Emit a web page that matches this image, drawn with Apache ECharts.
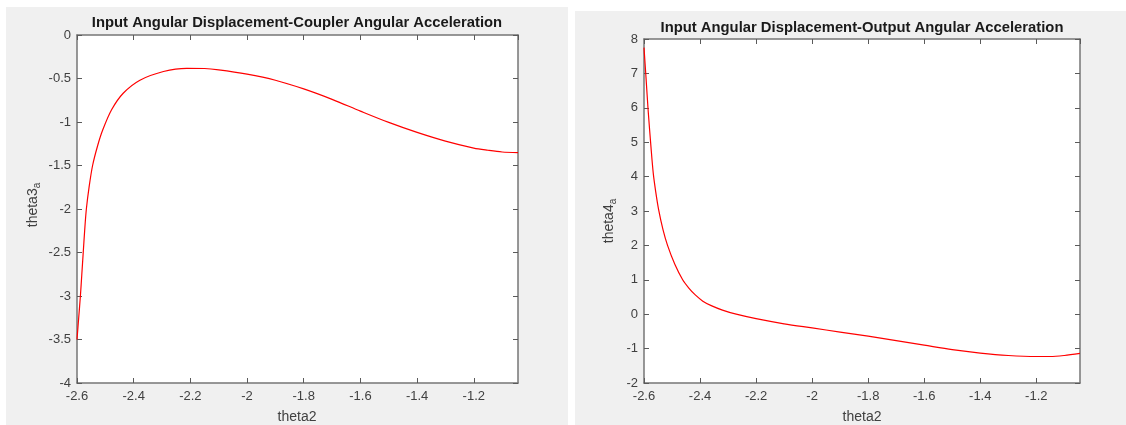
<!DOCTYPE html>
<html>
<head>
<meta charset="utf-8">
<script src="https://cdn.jsdelivr.net/npm/echarts@6/dist/echarts.min.js"></script>
<style>
html,body{margin:0;padding:0;background:#fff;}
#c{width:1126px;height:425px;}
</style>
</head>
<body>
<div id="c"></div>
<script>
// ---- data ----
var titles = ['Input Angular Displacement-Coupler Angular Acceleration',
              'Input Angular Displacement-Output Angular Acceleration'];
var xName = 'theta2';
var xTicks = [-2.6, -2.4, -2.2, -2, -1.8, -1.6, -1.4, -1.2];
var xMin = -2.6, xMax = -1.044;
var yTicksLeft = [-4, -3.5, -3, -2.5, -2, -1.5, -1, -0.5, 0];
var yTicksRight = [-2, -1, 0, 1, 2, 3, 4, 5, 6, 7, 8];

var theta2Left = [-2.600, -2.594, -2.588, -2.583, -2.578, -2.573, -2.567, -2.557, -2.545, -2.527, -2.509, -2.478,
                  -2.437, -2.378, -2.295, -2.213, -2.150, -2.100, -2.000, -1.900, -1.800, -1.700, -1.600,
                  -1.500, -1.400, -1.300, -1.200, -1.150, -1.100, -1.044];
var theta3a    = [-3.50, -3.25, -3.00, -2.75, -2.50, -2.25, -2.00, -1.74, -1.50, -1.27, -1.09, -0.86,
                  -0.67, -0.52, -0.42, -0.383, -0.385, -0.40, -0.45, -0.52, -0.62, -0.74, -0.875,
                  -1.005, -1.12, -1.22, -1.30, -1.325, -1.345, -1.353];

var theta2Right = [-2.600, -2.593, -2.585, -2.575, -2.567, -2.558, -2.548, -2.532, -2.516, -2.490, -2.462,
                   -2.440, -2.417, -2.390, -2.360, -2.320, -2.271, -2.200, -2.100, -2.000, -1.900, -1.800, -1.700,
                   -1.600, -1.500, -1.400, -1.300, -1.200, -1.150, -1.100, -1.044];
var theta4a     = [7.75, 6.9, 5.9, 4.85, 4.1, 3.55, 3.05, 2.45, 2.0, 1.45, 1.0,
                   0.76, 0.56, 0.38, 0.25, 0.12, 0.0, -0.13, -0.28, -0.40, -0.52, -0.64, -0.77,
                   -0.90, -1.03, -1.13, -1.20, -1.23, -1.23, -1.20, -1.14];

function pairs(xs, ys){ return xs.map(function(x,i){ return [x, ys[i]]; }); }

var axisColor = '#767676';
var labelColor = '#404040';
var fontFam = '"Liberation Sans", Arial, Helvetica, sans-serif';

function fmt(v){ return String(Math.round(v*10)/10); }

function xAx(grid, pos, showLabels){
  return {
    type:'value', gridIndex:grid, position:pos, min:xMin, max:xMax, interval:0.2,
    axisLine:{show:true, onZero:false, lineStyle:{color:axisColor, width:1.5}},
    axisTick:{show:true, inside:true, length:5, lineStyle:{color:'#5a5a5a', width:1}},
    axisLabel:{show:showLabels, showMaxLabel:false, color:labelColor, fontSize:13, fontFamily:fontFam, margin:7,
      formatter:fmt},
    splitLine:{show:false}
  };
}
function yAx(grid, pos, min, max, interval, showLabels){
  return {
    type:'value', gridIndex:grid, position:pos, min:min, max:max, interval:interval,
    axisLine:{show:true, onZero:false, lineStyle:{color:axisColor, width:1.5}},
    axisTick:{show:true, inside:true, length:5, lineStyle:{color:'#5a5a5a', width:1}},
    axisLabel:{show:showLabels, color:labelColor, fontSize:13, fontFamily:fontFam, margin:6,
      formatter:fmt},
    splitLine:{show:false}
  };
}

var chart = echarts.init(document.getElementById('c'), null, {renderer:'canvas'});
var option = {
  backgroundColor:'#ffffff',
  animation:false,
  grid:[
    {left:77, top:35, width:441, height:348, show:true, backgroundColor:'#ffffff', borderWidth:0},
    {left:644, top:39, width:436, height:344, show:true, backgroundColor:'#ffffff', borderWidth:0}
  ],
  xAxis:[ xAx(0,'bottom',true), xAx(0,'top',false), xAx(1,'bottom',true), xAx(1,'top',false) ],
  yAxis:[ yAx(0,'left',-4,0,0.5,true), yAx(0,'right',-4,0,0.5,false),
          yAx(1,'left',-2,8,1,true), yAx(1,'right',-2,8,1,false) ],
  series:[
    {type:'line', xAxisIndex:0, yAxisIndex:0, data:pairs(theta2Left, theta3a), smooth:0.3,
     showSymbol:false, lineStyle:{color:'#ff0000', width:1.2}, z:5},
    {type:'line', xAxisIndex:2, yAxisIndex:2, data:pairs(theta2Right, theta4a), smooth:0.3,
     showSymbol:false, lineStyle:{color:'#ff0000', width:1.2}, z:5}
  ],
  graphic:[
    {type:'rect', shape:{x:6, y:7, width:562, height:418}, style:{fill:'#f0f0f0'}, z:-10, silent:true},
    {type:'rect', shape:{x:575, y:11, width:551, height:414}, style:{fill:'#f0f0f0'}, z:-10, silent:true},
    {type:'text', x:297, y:23, z:10, style:{text:titles[0], align:'center', verticalAlign:'middle',
      font:'bold 14.8px "Liberation Sans", Arial, sans-serif', fill:'#1a1a1a'}},
    {type:'text', x:862, y:28, z:10, style:{text:titles[1], align:'center', verticalAlign:'middle',
      font:'bold 14.8px "Liberation Sans", Arial, sans-serif', fill:'#1a1a1a'}},
    {type:'text', x:297, y:417, z:10, style:{text:xName, align:'center', verticalAlign:'middle',
      font:'14px "Liberation Sans", Arial, sans-serif', fill:'#404040'}},
    {type:'text', x:862, y:417, z:10, style:{text:xName, align:'center', verticalAlign:'middle',
      font:'14px "Liberation Sans", Arial, sans-serif', fill:'#404040'}},
    {type:'text', x:33, y:205, rotation:Math.PI/2, z:10, style:{text:'theta3{s|a}', align:'center', verticalAlign:'middle',
      font:'14px "Liberation Sans", Arial, sans-serif', fill:'#404040',
      rich:{s:{fontSize:10, fontFamily:'"Liberation Sans", Arial, sans-serif', fill:'#404040', padding:[8,0,0,0]}}}},
    {type:'text', x:609, y:221, rotation:Math.PI/2, z:10, style:{text:'theta4{s|a}', align:'center', verticalAlign:'middle',
      font:'14px "Liberation Sans", Arial, sans-serif', fill:'#404040',
      rich:{s:{fontSize:10, fontFamily:'"Liberation Sans", Arial, sans-serif', fill:'#404040', padding:[8,0,0,0]}}}}
  ]
};
chart.setOption(option);
</script>
</body>
</html>
